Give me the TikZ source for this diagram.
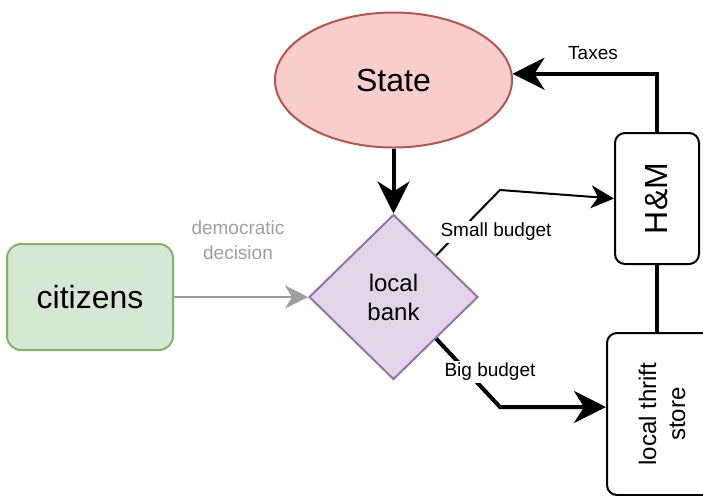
\documentclass[tikz,border=0pt]{standalone}
\usepackage{fontspec}
\setmainfont{Liberation Sans}
\usetikzlibrary{shapes.geometric}
\usetikzlibrary{arrows.meta}

\definecolor{statefill}{HTML}{F8CECC}
\definecolor{stateline}{HTML}{B85450}
\definecolor{citfill}{HTML}{D5E8D4}
\definecolor{citline}{HTML}{82B366}
\definecolor{bankfill}{HTML}{E1D5E7}
\definecolor{bankline}{HTML}{9673A6}
\definecolor{votegray}{HTML}{9E9E9E}

\begin{document}
\begin{tikzpicture}[x=0.5pt,y=-0.5pt]
	\tikzstyle{bigtext}=[font=\fontsize{16}{19}\selectfont]
	\tikzstyle{midtext}=[font=\fontsize{12}{14.5}\selectfont, align=center]
	\tikzstyle{lbl}=[font=\fontsize{9.5}{12.5}\selectfont, align=center, fill=white, inner sep=1pt]
	\tikzstyle{shop}=[draw, line width=1pt, rounded corners=5pt, inner sep=0pt]
	\tikzstyle{thin}=[line width=1pt, -{Stealth[length=11.5pt, width=11.5pt, inset=3.5pt]}]
	\tikzstyle{thick}=[line width=2pt, -{Stealth[length=16pt, width=16pt, inset=5pt]}]
	\useasboundingbox (0,0) rectangle (703,495);

	\node (state) [ellipse, draw=stateline, fill=statefill, line width=1pt, inner sep=0pt,
		minimum width=118.5pt, minimum height=67.5pt, bigtext] at (393.5,80) {State};
	\node (cit) [draw=citline, fill=citfill, line width=1pt, rounded corners=7pt,
		minimum width=83pt, minimum height=53pt, bigtext] at (90,297) {citizens};
	\node (bank) [diamond, draw=bankline, fill=bankfill, line width=1pt, inner sep=0pt,
		minimum width=84.5pt, minimum height=82.5pt, midtext] at (393.5,297) {local\\bank};
	\node (hm) [shop, minimum width=42pt, minimum height=65.5pt,
		label={[rotate=90, bigtext]center:H\&M}] at (657,198.5) {};
	\node (thrift) [shop, minimum width=55pt, minimum height=81pt,
		label={[rotate=90, midtext]center:local thrift\\store}] at (662,414) {};

	\coordinate (sbend) at (500,190);
	\coordinate (bbend) at (500,407);

	\draw[thick] (state) -- (bank);
	\draw[thin, votegray] (cit) -- (bank);
	\draw[thin] (bank.north east) -- (sbend) -- (hm.west);
	\draw[thick] (bank.south east) -- (bbend) -- (bbend -| thrift.west);
	\draw[thick] (hm.north) |- (state.3);
	\draw[line width=2pt] (hm.south) -- (hm.south |- thrift.north);

	\node (vote) [lbl, fill=none, text=votegray] at (238,240) {democratic\\decision};
	\node (small) [lbl] at (496,232) {Small budget};
	\node (big) [lbl] at (490,372) {Big budget};
	\node (tax) [lbl] at (593,53) {Taxes};
\end{tikzpicture}
\end{document}
